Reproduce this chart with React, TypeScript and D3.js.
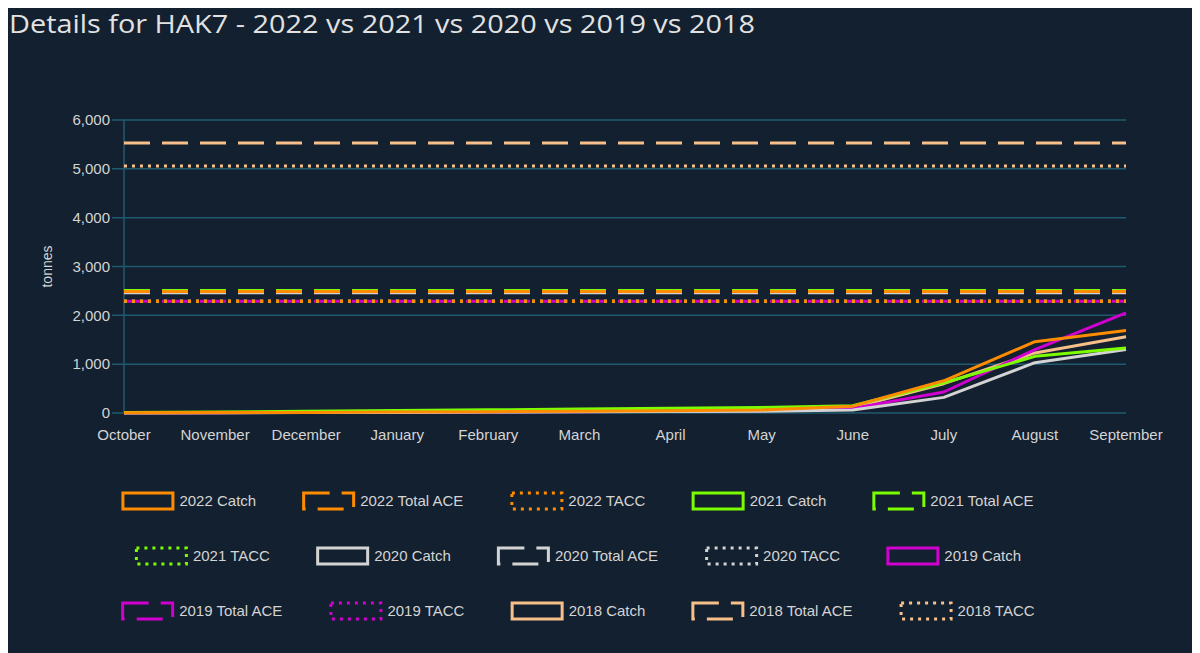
import React from 'react';
import * as d3 from 'd3';

const months = ['October', 'November', 'December', 'January', 'February', 'March', 'April', 'May', 'June', 'July', 'August', 'September'];
const years = ['2022', '2021', '2020', '2019', '2018'];
const catch2022 = [5, 8, 12, 20, 28, 35, 45, 60, 140, 660, 1460, 1690];
const catch2021 = [10, 20, 35, 50, 65, 80, 95, 115, 150, 620, 1160, 1330];
const catch2020 = [2, 5, 8, 12, 18, 24, 30, 38, 60, 320, 1030, 1300];
const catch2019 = [3, 6, 10, 15, 22, 28, 35, 45, 95, 430, 1300, 2050];
const catch2018 = [3, 6, 10, 16, 24, 30, 38, 50, 110, 600, 1230, 1560];
const catches = [catch2022, catch2021, catch2020, catch2019, catch2018];
const totalAce = [2490, 2510, 2460, 2290, 5530];
const tacc = [2290, 2290, 2290, 2290, 5060];
const yTicks = [0, 1000, 2000, 3000, 4000, 5000, 6000];

const yearColors = ['#ff8c00', '#7cfc00', '#d3d3d3', '#d000d0', '#f7c08a'];
const bg = '#13202f';
const gridColor = '#1f5a6e';
const textColor = '#d4d4d4';

const W = 1192;
const H = 645;
const plot = { left: 116, right: 1118, top: 112, bottom: 405 };

// dash styles per kind
const dashes: Record<string, string | undefined> = {
  Catch: undefined,
  'Total ACE': '26 12',
  TACC: '3 5',
};

type Series = { label: string; kind: string; color: string; values: number[] };

const series: Series[] = [];
years.forEach((y, i) => {
  series.push({ label: `${y} Catch`, kind: 'Catch', color: yearColors[i], values: catches[i] });
  series.push({ label: `${y} Total ACE`, kind: 'Total ACE', color: yearColors[i], values: months.map(() => totalAce[i]) });
  series.push({ label: `${y} TACC`, kind: 'TACC', color: yearColors[i], values: months.map(() => tacc[i]) });
});

const legendFont = "15px 'Liberation Sans', Arial, sans-serif";

function measure(text: string, font: string) {
  const c = document.createElement('canvas').getContext('2d')!;
  c.font = font;
  return c.measureText(text).width;
}

export default function App() {
  const x = d3.scalePoint<string>().domain(months).range([plot.left, plot.right]);
  const y = d3.scaleLinear().domain([0, 6000]).range([plot.bottom, plot.top]);
  const line = d3
    .line<number>()
    .x((d, i) => x(months[i])!)
    .y((d) => y(d));
  const fmt = d3.format(',');

  // legend: 5 items per row, rows centred
  const boxW = 53;
  const boxH = 19;
  const boxGap = 5;
  const itemGap = 46;
  const legendCx = 570;
  const rowY = [493, 548, 603];
  const rows = d3.range(3).map((r) => series.slice(r * 5, r * 5 + 5));
  const legendItems: { s: Series; lx: number; ly: number }[] = [];
  rows.forEach((row, r) => {
    const widths = row.map((s) => boxW + boxGap + measure(s.label, legendFont));
    const total = d3.sum(widths) + itemGap * (row.length - 1);
    let cx = legendCx - total / 2;
    row.forEach((s, i) => {
      legendItems.push({ s, lx: cx, ly: rowY[r] });
      cx += widths[i] + itemGap;
    });
  });

  return (
    <div>
      <style>{`body{overflow:hidden}`}</style>
      <svg width={W} height={H} style={{ display: 'block', background: bg }}>
        <text
          x={1}
          y={25}
          fill="#e2e2e2"
          fontFamily="'Open Sans', sans-serif"
          fontSize={26}
          textLength={746}
          lengthAdjust="spacingAndGlyphs"
        >
          Details for HAK7 - 2022 vs 2021 vs 2020 vs 2019 vs 2018
        </text>

        {/* grid */}
        {yTicks.map((t) => (
          <g key={t}>
            <line x1={plot.left - 12} x2={plot.right} y1={y(t)} y2={y(t)} stroke={gridColor} strokeWidth={1.5} />
            <text
              x={plot.left - 14}
              y={y(t)}
              dy="0.35em"
              textAnchor="end"
              fill={textColor}
              fontFamily="'Liberation Sans', Arial, sans-serif"
              fontSize={15}
            >
              {fmt(t)}
            </text>
          </g>
        ))}
        <line x1={plot.left} x2={plot.left} y1={plot.top} y2={plot.bottom} stroke={gridColor} strokeWidth={1.5} />
        <text
          transform={`translate(44,${(plot.top + plot.bottom) / 2}) rotate(-90)`}
          textAnchor="middle"
          fill={textColor}
          fontFamily="'Liberation Sans', Arial, sans-serif"
          fontSize={14}
        >
          tonnes
        </text>
        {months.map((m) => (
          <text
            key={m}
            x={x(m)}
            y={432}
            textAnchor="middle"
            fill={textColor}
            fontFamily="'Liberation Sans', Arial, sans-serif"
            fontSize={15}
          >
            {m}
          </text>
        ))}

        {/* series, first dataset drawn on top */}
        {series
          .slice()
          .reverse()
          .map((s) => (
            <path
              key={s.label}
              d={line(s.values) || ''}
              fill="none"
              stroke={s.color}
              strokeWidth={3}
              strokeDasharray={dashes[s.kind]}
              strokeLinejoin="round"
            />
          ))}

        {/* legend */}
        {legendItems.map(({ s, lx, ly }) => (
          <g key={s.label} transform={`translate(${lx},${ly})`}>
            <rect
              x={1.5}
              y={-boxH / 2 + 1.5}
              width={boxW - 3}
              height={boxH - 3}
              fill="none"
              stroke={s.color}
              strokeWidth={3}
              strokeDasharray={dashes[s.kind]}
            />
            <text
              x={boxW + boxGap}
              y={0}
              dy="0.35em"
              fill={textColor}
              fontFamily="'Liberation Sans', Arial, sans-serif"
              fontSize={15}
            >
              {s.label}
            </text>
          </g>
        ))}
      </svg>
    </div>
  );
}
